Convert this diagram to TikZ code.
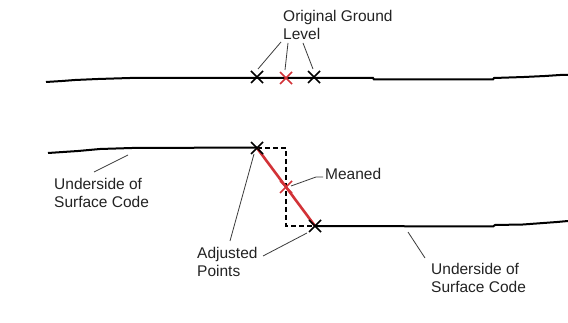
\documentclass[tikz,border=0pt]{standalone}
\usepackage{fontspec}
\setmainfont{Liberation Sans}
\usetikzlibrary{shapes.misc}
\definecolor{redline}{RGB}{210,50,55}
\definecolor{txt}{RGB}{35,35,35}
\definecolor{leader}{RGB}{60,60,60}
\tikzset{
  ground/.style={line width=2pt, black, line join=miter},
  xmark/.style={cross out, draw=black, line width=1.5pt, minimum size=10.5pt, inner sep=0pt},
  rxmark/.style={xmark, draw=redline},
  lbl/.style={anchor=north west, inner sep=0pt, align=left, text=txt,
     font=\fontsize{15.5}{18}\selectfont},
  leaderline/.style={draw=leader, line width=0.8pt},
  dashbox/.style={line width=1.8pt, dash pattern=on 5pt off 3pt, black},
  meanline/.style={line width=2.6pt, redline}
}
\begin{document}
\begin{tikzpicture}[x=1pt,y=-1pt]
\useasboundingbox (0,0) rectangle (568,323);
\fill[white] (0,0) rectangle (568,323);
% top line
\draw[ground] (46,82) -- (62,81) -- (75,80) -- (98,79) -- (130,78) -- (373,78) -- (374,79.5) -- (493,79.5) -- (494,78) -- (524,77) -- (545,76) -- (560,75) -- (568,75);
% crosses top
\node[xmark] (t1) at (257,77) {};
\node[rxmark] (t2) at (286,78) {};
\node[xmark] (t3) at (314,77) {};
% lower lines
\draw[ground] (48,153) -- (63,152) -- (78,151) -- (100,149) -- (132,148) -- (257,147.5);
\draw[ground] (315,226) -- (493,226.5) -- (495,225) -- (523,224.5) -- (557,222) -- (568,221);
% dashed step
\draw[dashbox] (257,148) -- (286,148) -- (286,226) -- (315,226);
% meaned line
\draw[meanline] (257,148) -- (315,226);
% lower crosses
\node[xmark] (a1) at (257,148) {};
\node[rxmark] (m) at (286,187) {};
\node[xmark] (a2) at (315,226) {};
% labels
\node[lbl] (ogl) at (283,10.3) {Original Ground\\Level};
\node[lbl] (usl) at (54,177.8) {Underside of\\Surface Code};
\node[lbl] (adj) at (197,246.8) {Adjusted\\Points};
\node[lbl] (mea) at (325,167.8) {Meaned};
\node[lbl] (usr) at (431,262.8) {Underside of\\Surface Code};
% leader end coordinates
\coordinate (o1) at (281,42);
\coordinate (o2) at (288,43);
\coordinate (o3) at (303,43);
\coordinate (e1) at (258,69);
\coordinate (e2) at (285,70);
\coordinate (e3) at (313,69);
\coordinate (ul1) at (128,155);
\coordinate (ul2) at (94,172);
\coordinate (ad1) at (254,154);
\coordinate (ad2) at (230,241);
\coordinate (ad3) at (307,233);
\coordinate (ad4) at (263,256);
\coordinate (me1) at (291,186);
\coordinate (me2) at (316,177);
\coordinate (me3) at (323,177);
\coordinate (ur1) at (408,232);
\coordinate (ur2) at (425,258);
% leaders
\draw[leaderline] (o1) -- (e1);
\draw[leaderline] (o2) -- (e2);
\draw[leaderline] (o3) -- (e3);
\draw[leaderline] (ul1) -- (ul2);
\draw[leaderline] (ad1) -- (ad2);
\draw[leaderline] (ad3) -- (ad4);
\draw[leaderline] (me1) -- (me2) -- (me3);
\draw[leaderline] (ur1) -- (ur2);
\end{tikzpicture}
\end{document}
